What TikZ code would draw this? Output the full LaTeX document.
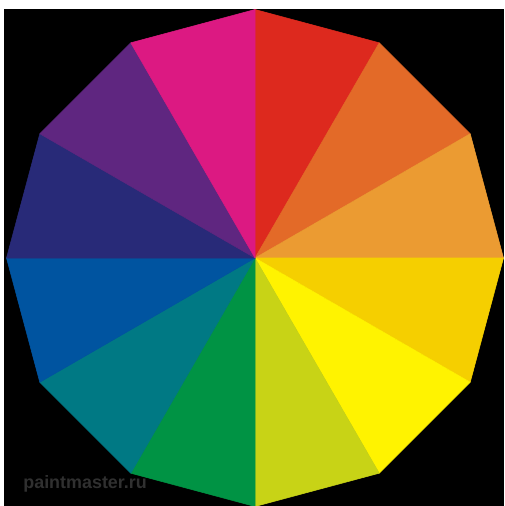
\documentclass[tikz,border=0pt]{standalone}
\usepackage{tikz}
\usepackage{fontspec}
\setsansfont{Liberation Sans}
\usetikzlibrary{positioning, calc}
\definecolor{wheelred}{RGB}{221,41,30}
\definecolor{wheelorange}{RGB}{227,106,40}
\definecolor{wheelamber}{RGB}{235,155,50}
\definecolor{wheelgold}{RGB}{245,207,0}
\definecolor{wheelyellow}{RGB}{255,243,0}
\definecolor{wheellime}{RGB}{200,211,22}
\definecolor{wheelgreen}{RGB}{0,147,68}
\definecolor{wheelteal}{RGB}{0,121,132}
\definecolor{wheelblue}{RGB}{0,84,160}
\definecolor{wheelnavy}{RGB}{40,42,120}
\definecolor{wheelpurple}{RGB}{95,38,128}
\definecolor{wheelmagenta}{RGB}{220,25,130}
\definecolor{markgray}{RGB}{48,48,48}

\begin{document}
\begin{tikzpicture}[
  x=0.02cm, y=-0.02cm,
  sector/.style={line join=round},
  mark text/.style={text=markgray, font=\sffamily\bfseries\fontsize{10.2}{10.2}\selectfont, inner sep=0pt, anchor=base west}
]
  \useasboundingbox (0,0) rectangle (504,506);
  \fill[white] (0,0) rectangle (504,506);
  \fill[black] (4,9) rectangle (504,506);

  \coordinate (centre) at (255,258);

  % twelve sectors, clockwise from the top
  \foreach \col [count=\i from 0] in {wheelred, wheelorange, wheelamber, wheelgold, wheelyellow, wheellime, wheelgreen, wheelteal, wheelblue, wheelnavy, wheelpurple, wheelmagenta} {
    \pgfmathsetmacro{\a}{90-30*\i}
    \pgfmathsetmacro{\b}{60-30*\i}
    \fill[sector, fill=\col, draw=\col, line width=0.3pt]
      (centre) -- ($(centre)+({248.5*cos(\a)},{-248.5*sin(\a)})$)
      -- ($(centre)+({248.5*cos(\b)},{-248.5*sin(\b)})$) -- cycle;
  }

  \node[mark text] (site) at (23,488) {paintmaster.ru};
\end{tikzpicture}
\end{document}
